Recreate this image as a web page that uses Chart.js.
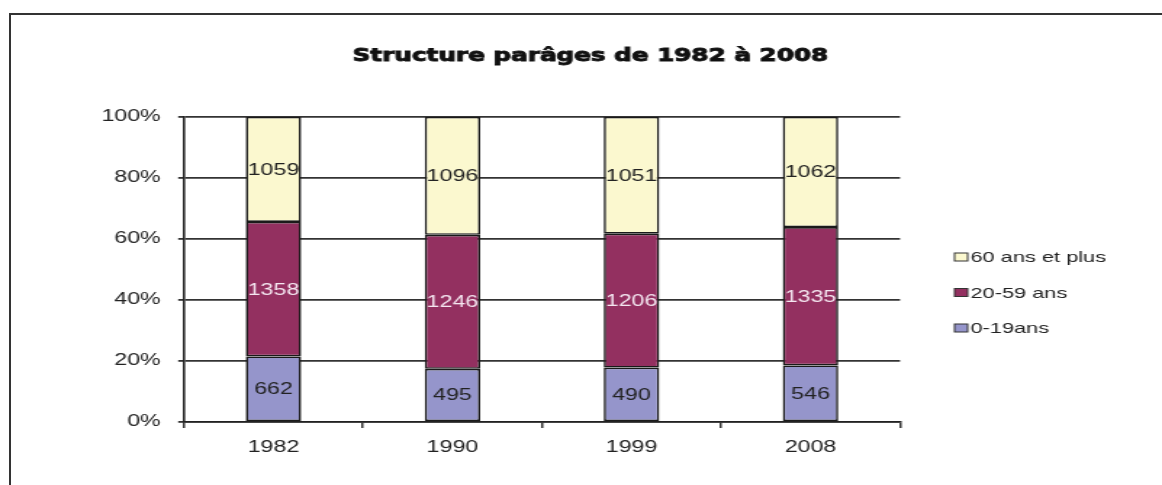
<!DOCTYPE html>
<html>
<head>
<meta charset="utf-8">
<script src="https://cdn.jsdelivr.net/npm/chart.js@4/dist/chart.umd.min.js"></script>
<style>
    html, body { margin: 0; padding: 0; background: #fff; overflow: hidden; }
    #frame {
        position: absolute; left: 9px; top: 13px; width: 1200px; height: 520px;
        border: 2px solid #333; box-sizing: border-box;
    }
    #chart {
        position: absolute; left: 0; top: 0;
        transform-origin: 0 0;
    }
</style>
</head>
<body>
<div id="frame"></div>
<canvas id="chart" width="801" height="485"></canvas>
<script>
    const years = ["1982", "1990", "1999", "2008"];
    const age0to19 = [662, 495, 490, 546];
    const age20to59 = [1358, 1246, 1206, 1335];
    const age60plus = [1059, 1096, 1051, 1062];
    const seriesNames = ["0-19ans", "20-59 ans", "60 ans et plus"];
    const seriesColors = ["#9595cb", "#933060", "#fbf8cf"];
    const labelColors = ["#222222", "#f4e6f0", "#222222"];
    const yTicks = [0, 20, 40, 60, 80, 100];
    const chartTitle = "Structure parâges de 1982 à 2008";

    // the reference picture is stretched horizontally, so draw narrow and stretch
    const canvas = document.getElementById("chart");
    const stretch = 1162 / canvas.width;
    canvas.style.transform = "scaleX(" + stretch + ")";

    const raw = [age0to19, age20to59, age60plus];
    const totals = years.map(function (y, i) {
        return age0to19[i] + age20to59[i] + age60plus[i];
    });
    function toPercent(values) {
        return values.map(function (v, i) { return v / totals[i] * 100; });
    }

    const tickFont = { family: "Liberation Sans", size: 16 };

    const labelsPlugin = {
        id: "segmentLabels",
        afterDatasetsDraw: function (chart) {
            const ctx = chart.ctx;
            ctx.save();
            ctx.font = "16px 'Liberation Sans'";
            ctx.textAlign = "center";
            ctx.textBaseline = "middle";
            chart.data.datasets.forEach(function (ds, di) {
                const meta = chart.getDatasetMeta(di);
                ctx.fillStyle = labelColors[di];
                meta.data.forEach(function (bar, i) {
                    ctx.fillText(String(raw[di][i]), bar.x, (bar.y + bar.base) / 2 + 1);
                });
            });
            ctx.restore();
        }
    };

    const extrasPlugin = {
        id: "titleAndLegend",
        afterDraw: function (chart) {
            const ctx = chart.ctx;
            ctx.save();
            ctx.fillStyle = "#111";
            ctx.strokeStyle = "#111";
            ctx.lineWidth = 0.9;
            ctx.font = "bold 17px 'DejaVu Sans'";
            ctx.textAlign = "center";
            ctx.textBaseline = "middle";
            ctx.fillText(chartTitle, 407, 57);
            ctx.strokeText(chartTitle, 407, 57);

            ctx.font = "15px 'Liberation Sans'";
            ctx.textAlign = "left";
            const rows = [2, 1, 0];
            rows.forEach(function (di, r) {
                const y = 257 + r * 35.5;
                ctx.fillStyle = seriesColors[di];
                ctx.fillRect(658, y - 4, 9, 8);
                ctx.strokeStyle = "#333";
                ctx.lineWidth = 1;
                ctx.strokeRect(658, y - 4, 9, 8);
                ctx.fillStyle = "#222";
                ctx.fillText(seriesNames[di], 669, y + 1);
            });
            ctx.restore();
        }
    };

    new Chart(canvas.getContext("2d"), {
        type: "bar",
        data: {
            labels: years,
            datasets: raw.map(function (values, di) {
                return {
                    label: seriesNames[di],
                    data: toPercent(values),
                    backgroundColor: seriesColors[di],
                    borderColor: "#1a1a1a",
                    borderWidth: 1.6,
                    borderSkipped: false,
                    barPercentage: 0.31,
                    categoryPercentage: 1
                };
            })
        },
        options: {
            responsive: false,
            devicePixelRatio: 1,
            animation: false,
            layout: {
                padding: { top: 117, right: 180.6, left: 0, bottom: 0 }
            },
            plugins: {
                legend: { display: false },
                title: { display: false },
                tooltip: { enabled: false }
            },
            scales: {
                x: {
                    stacked: true,
                    offset: true,
                    grid: {
                        offset: true,
                        drawOnChartArea: true,
                        color: function (ctx) {
                            return ctx.index === years.length ? "#333" : "rgba(0,0,0,0)";
                        },
                        tickColor: "#333",
                        tickLength: 6,
                        lineWidth: 1.5
                    },
                    border: { color: "#222", width: 1.6 },
                    ticks: { font: tickFont, color: "#222", padding: 10 },
                    afterFit: function (scale) { scale.height = 63; }
                },
                y: {
                    stacked: true,
                    min: 0,
                    max: 100,
                    afterBuildTicks: function (scale) {
                        scale.ticks = yTicks.map(function (v) { return { value: v }; });
                    },
                    grid: {
                        color: "#333",
                        tickColor: "#333",
                        tickLength: 4,
                        lineWidth: 1.8
                    },
                    border: { color: "#222", width: 1.6 },
                    ticks: {
                        font: tickFont,
                        color: "#222",
                        padding: 12,
                        callback: function (v) { return v + "%"; }
                    },
                    afterFit: function (scale) { scale.width = 126.8; }
                }
            }
        },
        plugins: [labelsPlugin, extrasPlugin]
    });
</script>
</body>
</html>
